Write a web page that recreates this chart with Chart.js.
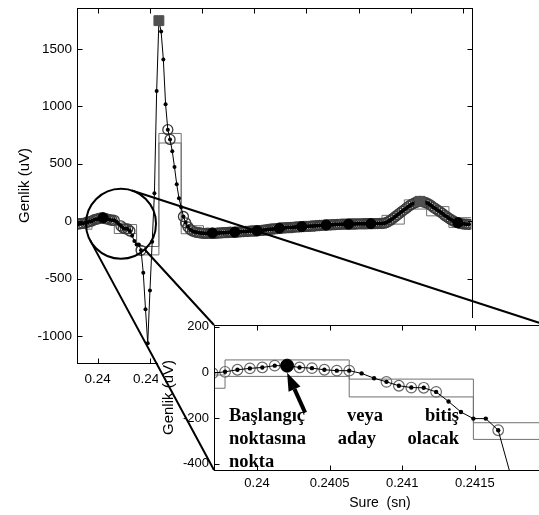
<!DOCTYPE html>
<html><head><meta charset="utf-8">
<script src="https://cdn.jsdelivr.net/npm/chart.js@4.4.1/dist/chart.umd.min.js"></script>
<style>
html,body{margin:0;padding:0;background:#fff;overflow:hidden;width:539px;height:515px;}
canvas{position:absolute;left:0;top:0;}
</style></head><body>
<canvas id="main" width="539" height="515"></canvas>
<canvas id="zoom" width="600" height="515"></canvas>
<script>
// ---------- data ----------
const sampleStart = 0.239267;    // time of first sample (s)
const samplePeriod = 0.0000855;  // sampling period (s)
const amplitude = [
  -25, -22, -20, -15, -10, -4,
  2, 11, 17, 21, 29, 29, 21, 18, 11, 7, 7,
  -5, -26, -42, -59, -67, -68, -86, -128, -174, -203, -203, -254,
  -450, -767, -1064, -603, -180, 242, 1133,
  1745, 1650, 1407, 1017, 796, 711, 608, 470, 320, 200,
  120, 40, -15, -50, -72, -85, -93, -98, -101, -104,
  -106, -107, -105, -106, -104, -106, -105, -103, -102, -101,
  -100, -99, -97, -98, -96, -95, -94, -92, -91, -90,
  -89, -87, -86, -86, -84, -82, -80, -78, -76, -73,
  -71, -69, -67, -65, -62, -60, -59, -57, -56, -55,
  -54, -52, -51, -50, -48, -47, -46, -45, -43, -42,
  -41, -40, -38, -37, -35, -34, -33, -32, -31, -30,
  -29, -28, -27, -27, -26, -26, -25, -25, -25, -24,
  -24, -24, -23, -23, -22, -22, -22, -21, -21, -20,
  -20, -18, -12, -2, 10, 25, 40, 55, 70, 85,
  100, 115, 130, 143, 153, 162, 168, 172, 170, 165,
  158, 148, 135, 120, 108, 95, 82, 68, 52, 38,
  25, 12, 2, -8, -14, -20, -24, -26, -27, -28
];
const circleRanges = [[0,16],[19,23],[28,28],[40,41],[47,175]]; // sample index ranges with open circles
const candidateIdx = [11, 60, 70, 80, 90, 100, 111, 121, 131, 170]; // big black dots
const peakIdx = [36, 153];                                         // grey squares
const stepEdges = [3, 6, 16, 26, 36, 46, 56, 66, 76, 86, 96, 106, 116, 126, 136, 146, 156, 166, 176];
const upperEnv = [-12, 54, -30, -221, 763, -40, -67, -58, -45, -25, -11, 2, 12, 16, 50, 185, 126, 30];
const lowerEnv = [-70, -18, -108, -294, 680, -110, -143, -134, -121, -101, -87, -74, -64, -60, -26, 105, 46, -55];

const mainXTicks = [0.240, 0.242, 0.244, 0.246, 0.248, 0.250, 0.252, 0.254];
const mainXTickLabels = ["0.24", "0.242", "0.244", "0.246", "0.248", "0.25", "0.252", "0.254"];
const mainYTicks = [-1000, -500, 0, 500, 1000, 1500];
const zoomXTicks = [0.24, 0.2405, 0.241, 0.2415];
const zoomXTickLabels = ["0.24", "0.2405", "0.241", "0.2415"];
const zoomYTicks = [-400, -200, 0, 200];
const mainRange = {xmin: 0.239207, xmax: 0.254324, ymin: -1235, ymax: 1855};
const zoomRange = {xmin: 0.239704, xmax: 0.24199, ymin: -428, ymax: 207};
const lensCenter = [0.240893, -23];
const noteLines = [["Başlangıç", "veya", "bitiş"], ["noktasına", "aday", "olacak"], ["nokta"]];

// ---------- derived ----------
const tOf = i => sampleStart + i * samplePeriod;
const signal = amplitude.map((v, i) => ({x: tOf(i), y: v}));
const circleIdx = [];
circleRanges.forEach(([a, b]) => { for (let i = a; i <= b; i++) circleIdx.push(i); });
const circlePts = circleIdx.map(i => signal[i]);
const candPts = candidateIdx.map(i => signal[i]);
const peakPts = peakIdx.map(i => signal[i]);
function stepData(vals) {
  const d = vals.map((v, j) => ({x: tOf(stepEdges[j]), y: v}));
  d.push({x: tOf(stepEdges[stepEdges.length - 1]), y: vals[vals.length - 1]});
  return d;
}
const upperPts = stepData(upperEnv), lowerPts = stepData(lowerEnv);

const SANS = '"Liberation Sans", Arial, sans-serif';

function frame(len) {
  return {
    id: 'frame',
    afterDraw(chart) {
      const {ctx, chartArea: a, scales: {x, y}} = chart;
      ctx.save();
      ctx.strokeStyle = '#000'; ctx.lineWidth = 1;
      const L = Math.round(a.left) + 0.5, T = Math.round(a.top) + 0.5, R = Math.round(a.right) + 0.5, B = Math.round(a.bottom) + 0.5;
      ctx.strokeRect(L, T, R - L, B - T);
      ctx.beginPath();
      x.ticks.forEach(t => { const p = Math.round(x.getPixelForValue(t.value)) + 0.5; ctx.moveTo(p, B); ctx.lineTo(p, B - len); ctx.moveTo(p, T); ctx.lineTo(p, T + len); });
      y.ticks.forEach(t => { const p = Math.round(y.getPixelForValue(t.value)) + 0.5; ctx.moveTo(L, p); ctx.lineTo(L + len, p); ctx.moveTo(R, p); ctx.lineTo(R - len, p); });
      ctx.stroke();
      ctx.restore();
    }
  };
}

function datasets(s) {
  return [
    {data: peakPts, pointStyle: 'rect', pointRadius: s.sq, pointBackgroundColor: '#505050', pointBorderColor: '#505050', showLine: false, order: 0},
    {data: candPts, pointStyle: 'circle', pointRadius: s.big, pointBackgroundColor: '#000', pointBorderColor: '#000', showLine: false, order: 1},
    {data: signal, showLine: true, borderColor: '#000', borderWidth: 1, pointRadius: s.dot, pointBackgroundColor: '#000', pointBorderColor: '#000', pointBorderWidth: 0, order: 2},
    {data: circlePts, pointStyle: 'circle', pointRadius: s.circ, pointBackgroundColor: 'rgba(0,0,0,0)', pointBorderColor: s.circColor, pointBorderWidth: s.circW, showLine: false, order: 3},
    {data: upperPts, showLine: true, stepped: true, borderColor: '#707070', borderWidth: 1, pointRadius: 0, order: 4},
    {data: lowerPts, showLine: true, stepped: true, borderColor: '#707070', borderWidth: 1, pointRadius: 0, order: 5}
  ];
}

function noPad(s) { s.paddingTop = 0; s.paddingBottom = 0; s.paddingLeft = 0; s.paddingRight = 0; }

// ---------- main chart ----------
const mainChart = new Chart(document.getElementById('main'), {
  type: 'scatter',
  data: {datasets: datasets({sq: 7, big: 5, dot: 2, circ: 5, circColor: '#3c3c3c', circW: 1.3})},
  options: {
    responsive: false, animation: false, events: [],
    layout: {padding: {left: 0, top: 6, right: 67.5, bottom: 0}},
    plugins: {legend: {display: false}, tooltip: {enabled: false}},
    scales: {
      x: {
        type: 'linear', min: mainRange.xmin, max: mainRange.xmax,
        grid: {display: false, drawTicks: false}, border: {display: false},
        afterBuildTicks: s => { s.ticks = mainXTicks.map(v => ({value: v})); },
        afterFit: s => { s.height = 152; noPad(s); },
        ticks: {callback: (v, i) => mainXTickLabels[i], padding: 8, color: '#000', maxRotation: 0, autoSkip: false, font: {family: SANS, size: 13.5}}
      },
      y: {
        type: 'linear', min: mainRange.ymin, max: mainRange.ymax,
        grid: {display: false, drawTicks: false}, border: {display: false},
        afterBuildTicks: s => { s.ticks = mainYTicks.map(v => ({value: v})); },
        afterFit: s => { s.width = 77; noPad(s); },
        ticks: {callback: v => String(v), padding: 5, color: '#000', autoSkip: false, font: {family: SANS, size: 13.5}},
        title: {display: true, text: 'Genlik (uV)', color: '#000', font: {family: SANS, size: 15}, padding: {top: 15.5, bottom: 0}}
      }
    }
  },
  plugins: [frame(5)]
});

// ---------- zoom chart (overlay) ----------
const overlay = {
  id: 'overlay',
  beforeDraw(chart) {
    const ctx = chart.ctx;
    ctx.save(); ctx.fillStyle = '#fff'; ctx.fillRect(158, 318, chart.width - 158, chart.height - 318); ctx.restore();
  },
  afterDraw(chart) {
    const {ctx, chartArea: a, scales: {x, y}} = chart;
    ctx.save();
    // note text, justified
    ctx.fillStyle = '#000';
    ctx.font = 'bold 18.5px "Liberation Serif", "Times New Roman", serif';
    ctx.textBaseline = 'alphabetic';
    const left = a.left + 15, right = a.left + 245;
    noteLines.forEach((words, li) => {
      const base = 420.5 + li * 23;
      if (words.length === 1) { ctx.fillText(words[0], left, base); return; }
      const ws = words.map(w => ctx.measureText(w).width);
      const gap = (right - left - ws.reduce((p, c) => p + c, 0)) / (words.length - 1);
      let cx = left;
      words.forEach((w, i) => { ctx.fillText(w, cx, base); cx += ws[i] + gap; });
    });
    // arrow to the candidate point
    const c = signal[candidateIdx[0]];
    const tip = {x: x.getPixelForValue(c.x), y: y.getPixelForValue(c.y) + 7};
    const tail = {x: tip.x + 18, y: tip.y + 40};
    const dx = tip.x - tail.x, dy = tip.y - tail.y, len = Math.hypot(dx, dy);
    const ux = dx / len, uy = dy / len;
    const bx = tip.x - 18 * ux, by = tip.y - 18 * uy;
    ctx.strokeStyle = '#000'; ctx.lineWidth = 4; ctx.lineCap = 'butt';
    ctx.beginPath(); ctx.moveTo(tail.x, tail.y); ctx.lineTo(bx, by); ctx.stroke();
    ctx.beginPath(); ctx.moveTo(tip.x, tip.y); ctx.lineTo(bx - 6.5 * uy, by + 6.5 * ux); ctx.lineTo(bx + 6.5 * uy, by - 6.5 * ux); ctx.closePath(); ctx.fill();
    // lens circle and connecting lines
    const mx = mainChart.scales.x, my = mainChart.scales.y;
    const cx0 = mx.getPixelForValue(lensCenter[0]), cy0 = my.getPixelForValue(lensCenter[1]), r = 35;
    ctx.lineWidth = 2;
    ctx.beginPath(); ctx.arc(cx0, cy0, r, 0, Math.PI * 2); ctx.stroke();
    function tangent(P, side) {
      const ddx = P.x - cx0, ddy = P.y - cy0, d = Math.hypot(ddx, ddy);
      const th = Math.atan2(ddy, ddx) + side * Math.acos(r / d);
      return {x: cx0 + r * Math.cos(th), y: cy0 + r * Math.sin(th)};
    }
    const TR = {x: a.right, y: a.top}, TL = {x: a.left, y: a.top}, BL = {x: a.left, y: a.bottom};
    const pA = tangent(TR, -1), pC = tangent(BL, 1);
    const dB = Math.hypot(TL.x - cx0, TL.y - cy0);
    const pB = {x: cx0 + r * (TL.x - cx0) / dB, y: cy0 + r * (TL.y - cy0) / dB};
    ctx.beginPath();
    ctx.moveTo(pA.x, pA.y); ctx.lineTo(TR.x, TR.y);
    ctx.moveTo(pB.x, pB.y); ctx.lineTo(TL.x, TL.y);
    ctx.moveTo(pC.x, pC.y); ctx.lineTo(BL.x, BL.y);
    ctx.stroke();
    ctx.restore();
  }
};

new Chart(document.getElementById('zoom'), {
  type: 'scatter',
  data: {datasets: datasets({sq: 7, big: 6.5, dot: 2.2, circ: 5.3, circColor: '#6a6a6a', circW: 1.2})},
  options: {
    responsive: false, animation: false, events: [],
    layout: {padding: {left: 155, top: 325, right: 54, bottom: 0}},
    plugins: {legend: {display: false}, tooltip: {enabled: false}},
    scales: {
      x: {
        type: 'linear', min: zoomRange.xmin, max: zoomRange.xmax,
        grid: {display: false, drawTicks: false}, border: {display: false},
        afterBuildTicks: s => { s.ticks = zoomXTicks.map(v => ({value: v})); },
        afterFit: s => { s.height = 45; noPad(s); },
        ticks: {callback: (v, i) => zoomXTickLabels[i], padding: 6, color: '#000', maxRotation: 0, autoSkip: false, font: {family: SANS, size: 13}},
        title: {display: true, text: 'Sure  (sn)', color: '#000', font: {family: SANS, size: 14}, padding: {top: 0, bottom: 3.6}}
      },
      y: {
        type: 'linear', min: zoomRange.ymin, max: zoomRange.ymax,
        grid: {display: false, drawTicks: false}, border: {display: false},
        afterBuildTicks: s => { s.ticks = zoomYTicks.map(v => ({value: v})); },
        afterFit: s => { s.width = 59; noPad(s); },
        ticks: {callback: v => String(v), padding: 5, color: '#000', autoSkip: false, font: {family: SANS, size: 13}},
        title: {display: true, text: 'Genlik (uV)', color: '#000', font: {family: SANS, size: 15}, padding: {top: 5, bottom: 0}}
      }
    }
  },
  plugins: [overlay, frame(5)]
});
</script></body></html>
